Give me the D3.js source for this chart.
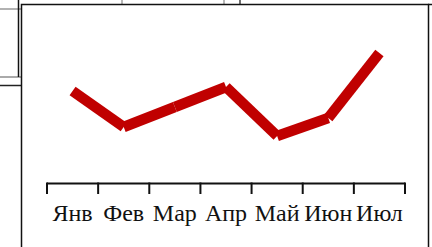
<!DOCTYPE html>
<html lang="ru">
<head>
  <meta charset="UTF-8" />
  <title>Line chart</title>
  <script src="https://d3js.org/d3.v7.min.js"></script>
  <style>
    html, body { margin: 0; padding: 0; background: #fff; }
    svg { display: block; }
  </style>
</head>
<body>
  <div id="chart"></div>
  <script>
    const months = ["Янв", "Фев", "Мар", "Апр", "Май", "Июн", "Июл"];
    const values = [92, 56, 76, 96, 47, 65, 130];

    const width = 432, height = 247;
    const svg = d3.select("#chart").append("svg").attr("width", width).attr("height", height);

    // bits of the surrounding document peeking out
    svg.append("line").attr("x1", 0).attr("x2", 21).attr("y1", 9).attr("y2", 9).attr("stroke", "#999").attr("stroke-width", 1.5);
    svg.append("line").attr("x1", 0).attr("x2", 21).attr("y1", 77).attr("y2", 77).attr("stroke", "#aaa").attr("stroke-width", 2);
    svg.append("line").attr("x1", 0).attr("x2", 21).attr("y1", 85.5).attr("y2", 85.5).attr("stroke", "#222").attr("stroke-width", 1.5);
    svg.append("line").attr("x1", 18.5).attr("x2", 18.5).attr("y1", 0).attr("y2", 77).attr("stroke", "#111").attr("stroke-width", 1.5);
    [[122, "#888"], [224, "#888"], [240, "#111"]].forEach(([x, c]) => {
      svg.append("line").attr("x1", x).attr("x2", x).attr("y1", 0).attr("y2", 5).attr("stroke", c).attr("stroke-width", 1.2);
    });

    // chart frame
    svg.append("rect").attr("x", 21.5).attr("y", 4.5).attr("width", 407).attr("height", 260)
      .attr("fill", "#fff").attr("stroke", "#111").attr("stroke-width", 1.5);
    svg.append("line").attr("x1", 428).attr("x2", 432).attr("y1", 4.5).attr("y2", 4.5).attr("stroke", "#111").attr("stroke-width", 1.5);

    const x = d3.scaleBand().domain(months).range([47, 405]).padding(0);
    const y = d3.scaleLinear().domain([0, 140]).range([183, 43]);

    // axis line and ticks at category boundaries
    const axisY = 183.5;
    svg.append("line").attr("x1", 47).attr("x2", 405).attr("y1", axisY).attr("y2", axisY)
      .attr("stroke", "#111").attr("stroke-width", 2);
    const edges = months.map(m => x(m)).concat([x.range()[1]]);
    svg.append("g").selectAll("line").data(edges).enter().append("line")
      .attr("x1", d => d).attr("x2", d => d).attr("y1", axisY - 1).attr("y2", 194)
      .attr("stroke", "#111").attr("stroke-width", 2);

    svg.append("g").selectAll("text").data(months).enter().append("text")
      .attr("x", d => x(d) + x.bandwidth() / 2).attr("y", 220.5)
      .attr("text-anchor", "middle")
      .style("font-family", "'Liberation Serif', 'DejaVu Serif', serif")
      .style("font-size", "24px").style("fill", "#111")
      .text(d => d);

    // line drawn as separate segments with butt caps
    const pts = months.map((m, i) => [x(m) + x.bandwidth() / 2, y(values[i])]);
    const segs = d3.pairs(pts);
    svg.append("g").selectAll("line").data(segs).enter().append("line")
      .attr("x1", d => d[0][0]).attr("y1", d => d[0][1])
      .attr("x2", d => d[1][0]).attr("y2", d => d[1][1])
      .attr("stroke", "#c00000").attr("stroke-width", 10.5).attr("stroke-linecap", "butt");
  </script>
</body>
</html>
